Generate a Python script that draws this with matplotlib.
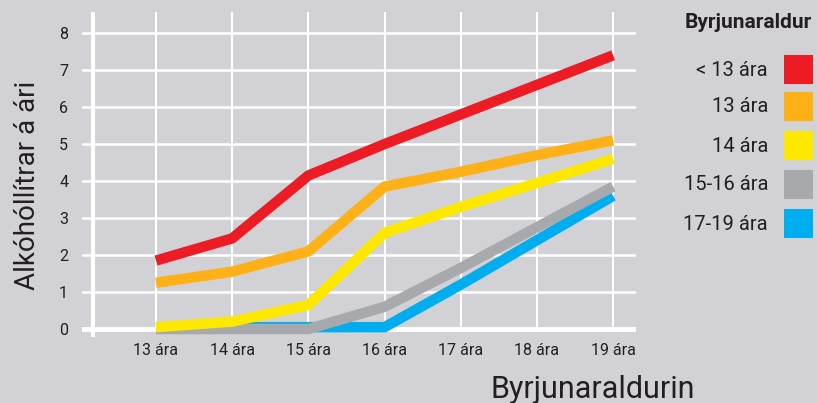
import matplotlib.pyplot as plt
from matplotlib.patches import Rectangle

plt.rcParams['font.family'] = ['Roboto', 'DejaVu Sans']

# data
x_labels = ['13 ára', '14 ára', '15 ára', '16 ára', '17 ára', '18 ára', '19 ára']
groups = ['< 13 ára', '13 ára', '14 ára', '15-16 ára', '17-19 ára']
under_13 = [1.85, 2.45, 4.15, 5.0, 5.8, 6.6, 7.4]
age_13 = [1.25, 1.55, 2.1, 3.85, 4.25, 4.7, 5.1]
age_14 = [0.05, 0.2, 0.65, 2.6, 3.3, 3.95, 4.6]
age_15_16 = [0.0, 0.0, 0.0, 0.6, 1.65, 2.75, 3.85]
age_17_19 = [0.05, 0.05, 0.05, 0.05, 1.2, 2.4, 3.6]
colors = ['#ED1C24', '#FDB117', '#FFE800', '#A7A9AC', '#00AEEF']

bg = '#d1d1d6'
W, H = 817, 403
fig = plt.figure(figsize=(W / 100, H / 100), dpi=100, facecolor=bg)

# axes box in pixels: left 82, right 636, top 12, bottom 337
ax = fig.add_axes([82 / W, 1 - 337 / H, (636 - 82) / W, (337 - 12) / H])
ax.set_facecolor(bg)
ax.set_xlim(-0.971, 6.30)
ax.set_ylim(-0.216, 8.57)
for s in ax.spines.values():
    s.set_visible(False)

xs = list(range(len(x_labels)))
for v in range(1, 9):
    ax.axhline(v, color='white', lw=1.8, zorder=1)
ax.axhline(0, color='white', lw=3.5, zorder=1)
ax.vlines(xs, 0, 8.57, color='white', lw=1.5, zorder=1)
ax.axvline(-0.827, color='white', lw=3, zorder=1)

series = [under_13, age_13, age_14, age_15_16, age_17_19]
order = [4, 3, 2, 1, 0]
for i in order:
    ax.plot(xs, series[i], color=colors[i], lw=7.5, solid_capstyle='butt',
            solid_joinstyle='miter', zorder=3 + (4 - i))

ax.set_xticks(xs)
ax.set_xticklabels(x_labels)
ax.set_yticks(range(0, 9))
ax.tick_params(length=0, labelsize=11.5, colors='#231f20')
ax.tick_params(axis='y', pad=10)
ax.tick_params(axis='x', pad=4)

fig.text(28 / W, 1 - 185 / H, 'Alkóhóllítrar á ári', rotation=90,
         ha='center', va='center', fontsize=20, color='#231f20')
fig.text(490 / W, 1 - 390 / H, 'Byrjunaraldurin', ha='left', va='center',
         fontsize=22, color='#231f20')

# legend
fig.text(812 / W, 1 - 22 / H, 'Byrjunaraldur', ha='right', va='center',
         fontsize=15, fontweight='bold', color='#231f20')
tops = [55, 92, 131, 170, 209]
for i, g in enumerate(groups):
    fig.add_artist(Rectangle((784 / W, 1 - (tops[i] + 29) / H), 29 / W, 29 / H,
                             transform=fig.transFigure, facecolor=colors[i],
                             edgecolor='none'))
    fig.text(768 / W, 1 - (tops[i] + 15) / H, g, ha='right', va='center',
             fontsize=14.5, color='#231f20')

fig.savefig('out.png', dpi=100, facecolor=bg)
